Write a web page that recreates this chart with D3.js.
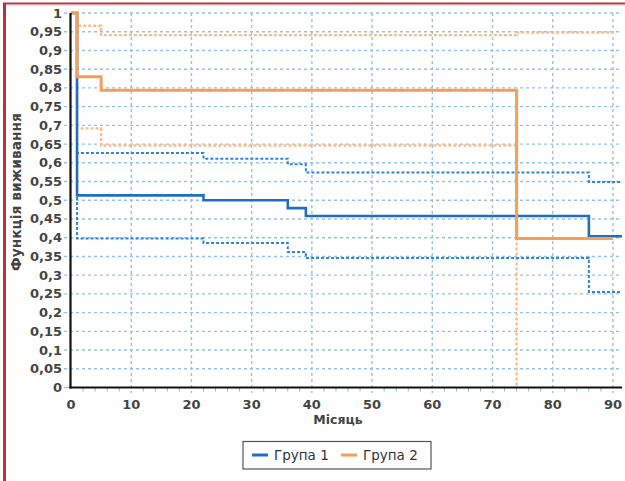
<!DOCTYPE html>
<html><head><meta charset="utf-8">
<script src="https://cdn.jsdelivr.net/npm/d3@7/dist/d3.min.js"></script>
<style>
html,body{margin:0;padding:0;background:#fff;}
svg{display:block;}
text{font-family:"DejaVu Sans",Verdana,sans-serif;}
</style></head>
<body>
<svg id="c" width="625" height="481"></svg>
<script>
// ---- data ----
const xTicks = [0,10,20,30,40,50,60,70,80,90];
const yTicks = [0,0.05,0.1,0.15,0.2,0.25,0.3,0.35,0.4,0.45,0.5,0.55,0.6,0.65,0.7,0.75,0.8,0.85,0.9,0.95,1];
const seriesNames = ["Група 1","Група 2"];

const g1Time  = [0, 1, 22, 36, 39, 86, 91.5];
const g1Surv  = [1, 0.513, 0.500, 0.479, 0.458, 0.404, 0.404];
const g1Upper = [1, 0.626, 0.611, 0.596, 0.574, 0.549, 0.549];
const g1Lower = [1, 0.398, 0.386, 0.362, 0.346, 0.255, 0.255];

const g2Time  = [0, 1, 5, 74, 90];
const g2Surv  = [1, 0.830, 0.794, 0.398, 0.398];
const g2Upper = [1, 0.966, 0.941, 0.948, 0.948];
const g2LowerTime = [0, 1, 5, 74];
const g2Lower = [1, 0.692, 0.646, 0];

// ---- drawing ----
const svg = d3.select("#c");
const x = d3.scaleLinear().domain([0, 91.5]).range([71, 622]);
const y = d3.scaleLinear().domain([0, 1]).range([387.5, 13]);

const blue = "#1f6ec2", orange = "#f59e55";
const blueCI = "#2f84d8", orangeCI = "#f9bd86";
const gridC = "#96c3e3";

// frame border (cropped: left & top)
svg.append("line").attr("x1",4.5).attr("x2",4.5).attr("y1",3).attr("y2",481).attr("stroke","#b3353a").attr("stroke-width",3);
svg.append("line").attr("x1",3).attr("x2",625).attr("y1",3.5).attr("y2",3.5).attr("stroke","#b3353a").attr("stroke-width",2);
svg.append("line").attr("x1",6).attr("x2",625).attr("y1",5).attr("y2",5).attr("stroke","#e8b5b5").attr("stroke-width",1);

// grid
const grid = svg.append("g");
grid.selectAll(".hg").data(yTicks.filter(d=>d>0)).enter().append("line")
  .attr("x1",64).attr("x2",622).attr("y1",d=>y(d)).attr("y2",d=>y(d))
  .attr("stroke",gridC).attr("stroke-width",1.4).attr("stroke-dasharray","3,3");
grid.selectAll(".vg").data(xTicks.filter(d=>d>0)).enter().append("line")
  .attr("x1",d=>x(d)).attr("x2",d=>x(d)).attr("y1",13).attr("y2",393)
  .attr("stroke",gridC).attr("stroke-width",1.4).attr("stroke-dasharray","3,3");
svg.append("line").attr("x1",64).attr("x2",70).attr("y1",y(0)).attr("y2",y(0)).attr("stroke",gridC).attr("stroke-width",1.4);
// minor x ticks
const minor = d3.range(2, 92, 2).filter(d=>d%10!==0);
svg.selectAll(".mt").data(minor).enter().append("line")
  .attr("x1",d=>x(d)).attr("x2",d=>x(d)).attr("y1",388).attr("y2",391.5)
  .attr("stroke","#8fb4cf").attr("stroke-width",1);

const step = (t, v) => d3.line().curve(d3.curveStepAfter).x((d,i)=>x(t[i])).y((d,i)=>y(v[i]))(v);

function ci(t,v,color,w){
  svg.append("path").attr("d",step(t,v)).attr("fill","none").attr("stroke",color)
    .attr("stroke-width",w).attr("stroke-dasharray","3,2");
}
ci(g2Time,g2Upper,orangeCI,2.4);
ci(g2LowerTime,g2Lower,orangeCI,2.4);
ci(g1Time,g1Upper,blueCI,2);
ci(g1Time,g1Lower,blueCI,2);

// main curves
svg.append("path").attr("d",step(g1Time,g1Surv)).attr("fill","none").attr("stroke",blue).attr("stroke-width",2.6);
svg.append("path").attr("d",step(g2Time,g2Surv)).attr("fill","none").attr("stroke",orange).attr("stroke-width",3);

// axes lines
svg.append("line").attr("x1",70.5).attr("x2",70.5).attr("y1",13).attr("y2",388.5).attr("stroke","#111").attr("stroke-width",2.2);
svg.append("line").attr("x1",69.5).attr("x2",622).attr("y1",387.5).attr("y2",387.5).attr("stroke","#111").attr("stroke-width",2.2);

// tick labels
const fmt = d => String(+d.toFixed(2)).replace(".", ",");
svg.selectAll(".yl").data(yTicks).enter().append("text")
  .attr("x",62).attr("y",d=>y(d)+4.5).attr("text-anchor","end")
  .attr("font-size",13).attr("font-weight","bold").attr("fill","#444").text(fmt);
svg.selectAll(".xl").data(xTicks).enter().append("text")
  .attr("x",d=>x(d)).attr("y",409).attr("text-anchor","middle")
  .attr("font-size",13).attr("font-weight","bold").attr("fill","#444").text(d=>d);

// axis titles
svg.append("text").attr("x",338).attr("y",424).attr("text-anchor","middle")
  .attr("font-size",12.5).attr("font-weight","bold").attr("fill","#444").text("Місяць");
svg.append("text").attr("transform","translate(21,192) rotate(-90)").attr("text-anchor","middle")
  .attr("font-size",13.8).attr("font-weight","bold").attr("fill","#444").text("Функція виживання");

// legend
const lg = svg.append("g");
lg.append("rect").attr("x",243).attr("y",441.5).attr("width",188).attr("height",27.5)
  .attr("fill","#fff").attr("stroke","#555").attr("stroke-width",1.2);
const lItems = [{name:seriesNames[0],c:blue,x:252},{name:seriesNames[1],c:orange,x:341}];
lItems.forEach(it=>{
  lg.append("line").attr("x1",it.x).attr("x2",it.x+16).attr("y1",455).attr("y2",455).attr("stroke",it.c).attr("stroke-width",3);
  lg.append("text").attr("x",it.x+22).attr("y",460).attr("font-size",13.5).attr("fill","#333").text(it.name);
});
</script>
</body></html>
